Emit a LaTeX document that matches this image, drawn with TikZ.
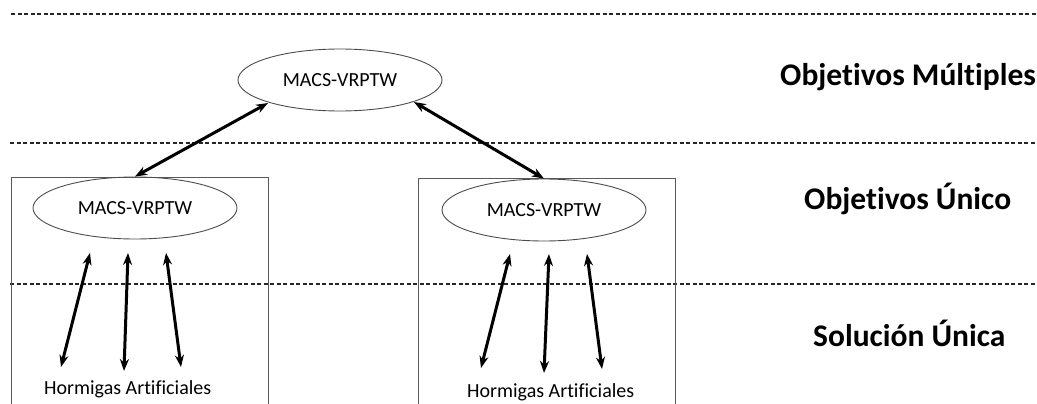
\documentclass[tikz,border=0pt]{standalone}
\usepackage{fontspec}
\setmainfont[Ligatures=NoCommon]{Carlito}
\usetikzlibrary{shapes.geometric,arrows.meta}
\begin{document}
\begin{tikzpicture}[x=1pt,y=-1pt,
  sep/.style={draw=black!85,line width=1.1pt,dash pattern=on 4pt off 2.5pt},
  frame/.style={draw=black!65,line width=1pt},
  oval/.style={draw=black!70,line width=0.9pt,ellipse,minimum width=204pt,minimum height=62pt,inner sep=0pt,font=\fontsize{20}{24}\selectfont},
  link/.style={line width=3pt,{Stealth[length=12pt,width=9pt]}-{Stealth[length=12pt,width=9pt]}},
  level/.style={anchor=base west,inner sep=0pt,font=\fontsize{31.5}{36}\selectfont\bfseries},
  ants/.style={anchor=base west,inner sep=0pt,font=\fontsize{20}{24}\selectfont}]
\useasboundingbox (0,0) rectangle (1037,404);
% separators
\coordinate (s1a) at (11,14);  \coordinate (s1b) at (1037,14);
\coordinate (s2a) at (10,143); \coordinate (s2b) at (1037,143);
\coordinate (s3a) at (10,284); \coordinate (s3b) at (1037,284);
\draw[sep] (s1a) -- (s1b);
\draw[sep] (s2a) -- (s2b);
\draw[sep] (s3a) -- (s3b);
% frames
\draw[frame] (11,404) -- (11,177) -- (268,177) -- (268,404);
\draw[frame] (418,404) -- (418,178) -- (675,178) -- (675,404);
% ellipses
\node[oval] (top) at (340,80) {MACS-VRPTW};
\node[oval] (le) at (135,208) {MACS-VRPTW};
\node[oval] (re) at (544,210) {MACS-VRPTW};
% level labels
\node[level] (l1) at (780,85) {Objetivos Múltiples};
\node[level] (l2) at (804,209) {Objetivos Único};
\node[level] (l3) at (813,346) {Solución Única};
% ants
\node[ants] (hl) at (44,394) {Hormigas Artificiales};
\node[ants] (hr) at (467,397) {Hormigas Artificiales};
% top links
\coordinate (tl) at (268,103);
\coordinate (tr) at (414,102);
\draw[link] (tl) -- (le.north);
\draw[link] (tr) -- (re.north);
% left box links
\coordinate (a1) at (90,253);  \coordinate (b1) at (61,367);
\coordinate (a2) at (128,253); \coordinate (b2) at (124,371);
\coordinate (a3) at (166,253); \coordinate (b3) at (181,367);
\draw[link] (a1) -- (b1);
\draw[link] (a2) -- (b2);
\draw[link] (a3) -- (b3);
% right box links
\coordinate (c1) at (510,254); \coordinate (d1) at (481,368);
\coordinate (c2) at (549,254); \coordinate (d2) at (544,373);
\coordinate (c3) at (587,254); \coordinate (d3) at (602,369);
\draw[link] (c1) -- (d1);
\draw[link] (c2) -- (d2);
\draw[link] (c3) -- (d3);
\end{tikzpicture}
\end{document}
